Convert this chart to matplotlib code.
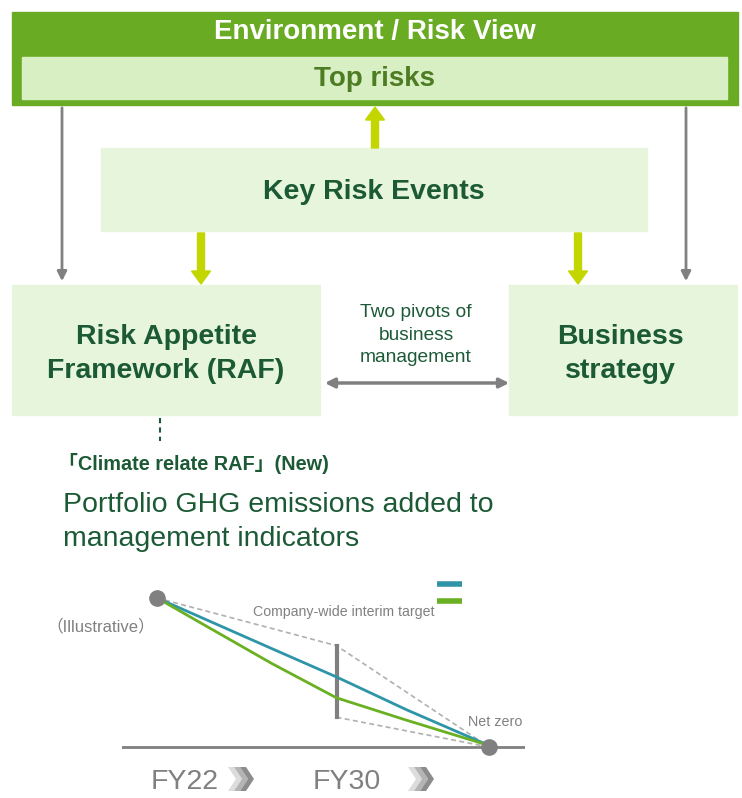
import matplotlib
matplotlib.use("Agg")
import matplotlib.pyplot as plt
from matplotlib.patches import Rectangle, FancyArrow, Polygon

# text content
title = "Environment / Risk View"
top_label = "Top risks"
event_label = "Key Risk Events"
raf_label = "Risk Appetite\nFramework (RAF)"
biz_label = "Business\nstrategy"
pivot_label = "Two pivots of\nbusiness\nmanagement"
climate_label = "「Climate relate RAF」(New)"
ghg_label = "Portfolio GHG emissions added to\nmanagement indicators"
fy_labels = ["FY22", "FY30"]

# illustrative emission path (index, start = 100)
stages = [0, 0.64, 1.0, 1.39, 1.85]
company_path = [100, 66, 47, 25, 1]
green_path = [100, 56, 33, 18, 1]
target_range = [20, 68]      # interim target band at FY30
endpoints_x = [0, 1.85]
endpoints_y = [100, 0]

DARK = "#1c5a36"
GRAY = "#808080"
LIME = "#c3d600"
PALE = "#e7f5dd"
SANS = ["Liberation Sans", "Noto Sans CJK JP"]

fig = plt.figure(figsize=(7.42, 7.98), dpi=100)
ax = fig.add_axes([0, 0, 1, 1])
ax.set_xlim(0, 742)
ax.set_ylim(798, 0)
ax.axis("off")

# header box
ax.add_patch(Rectangle((12, 12), 726, 93, color="#6aab24"))
ax.add_patch(Rectangle((22, 57), 705, 42, color="#d8efc4"))
ax.text(375, 32, title, ha="center", va="center", color="white",
        fontsize=20, fontweight="bold", family=SANS)
ax.text(375, 79, top_label, ha="center", va="center", color="#4d7c22",
        fontsize=20, fontweight="bold", family=SANS)

# key risk events
ax.add_patch(Rectangle((101, 148), 546, 83, color=PALE))
ax.text(374, 192, event_label, ha="center", va="center", color=DARK,
        fontsize=20.5, fontweight="bold", family=SANS)

# two pivots
ax.add_patch(Rectangle((12, 285), 308, 130, color=PALE))
ax.add_patch(Rectangle((509, 285), 228, 130, color=PALE))
ax.text(166, 354, raf_label, ha="center", va="center", color=DARK,
        fontsize=20.5, fontweight="bold", family=SANS, linespacing=1.45)
ax.text(620, 354, biz_label, ha="center", va="center", color=DARK,
        fontsize=20.5, fontweight="bold", family=SANS, linespacing=1.45)
ax.text(416, 335, pivot_label, ha="center", va="center", color=DARK,
        fontsize=13.8, family=SANS, linespacing=1.4)

# arrows
for x in (62, 686):
    ax.annotate("", xy=(x, 284), xytext=(x, 105),
                arrowprops=dict(arrowstyle="-|>", color=GRAY, lw=2, mutation_scale=14))
ax.annotate("", xy=(512, 383), xytext=(322, 383),
            arrowprops=dict(arrowstyle="<|-|>", color=GRAY, lw=2.5, mutation_scale=14))
ax.add_patch(FancyArrow(375, 148, 0, -41, width=7, head_width=19, head_length=13,
                        length_includes_head=True, color=LIME))
for x in (201, 578):
    ax.add_patch(FancyArrow(x, 233, 0, 51, width=7, head_width=19, head_length=13,
                            length_includes_head=True, color=LIME))

# climate RAF note
ax.plot([160, 160], [418, 441], ls=(0, (2.5, 2)), color=DARK, lw=1.5)
ax.text(58, 464, climate_label, ha="left", va="center", color=DARK,
        fontsize=14.3, fontweight="bold", family=SANS)
ax.text(63, 522, ghg_label, ha="left", va="center", color=DARK,
        fontsize=20.5, family=SANS, linespacing=1.4)
ax.text(101, 626, "（Illustrative）", ha="center", va="center", color=GRAY,
        fontsize=12, family=SANS)

# FY labels with chevrons
for x, lab in zip((185, 347), fy_labels):
    ax.text(x, 782, lab, ha="center", va="center", color=GRAY, fontsize=20.5, family=SANS)
for x0 in (228, 408):
    for k, c in enumerate(["#dcdcdc", "#b4b4b4", "#8c8c8c"]):
        x = x0 + k * 6
        ax.add_patch(Polygon([(x, 767), (x + 6, 767), (x + 14, 779), (x + 6, 791),
                              (x, 791), (x + 8, 779)], closed=True, color=c, lw=0))

# mini chart
ix = fig.add_axes([122 / 742, 1 - 750 / 798, 403 / 742, 165 / 798])
ix.set_xlim(-0.195, 2.05)
ix.set_ylim(-2, 108.7)
ix.axis("off")
ix.axhline(0, color=GRAY, lw=2)
ix.plot([0, 1, 1.85], [100, target_range[1], 0], ls=(0, (3, 2)), color="#b0b0b0", lw=1.2)
ix.plot([1, 1.85], [target_range[0], 0], ls=(0, (3, 2)), color="#b0b0b0", lw=1.2)
ix.plot([1, 1], target_range, color=GRAY, lw=3)
ix.plot(stages, company_path, color="#2e95a9", lw=2)
ix.plot(stages, green_path, color="#6ab023", lw=2)
ix.plot(endpoints_x, endpoints_y, "o", color=GRAY, ms=11, clip_on=False, zorder=5)
ix.text(1.04, 90.5, "Company-wide interim target", ha="center", va="center",
        color=GRAY, fontsize=10.2, family=SANS)
ix.text(1.73, 17, "Net zero", ha="left", va="center", color=GRAY,
        fontsize=10.3, family=SANS)
ix.plot([1.56, 1.70], [109.4, 109.4], color="#2e95a9", lw=4, solid_capstyle="butt", clip_on=False)
ix.plot([1.56, 1.70], [98, 98], color="#6ab023", lw=4, solid_capstyle="butt", clip_on=False)

fig.savefig("out.png", dpi=100)
